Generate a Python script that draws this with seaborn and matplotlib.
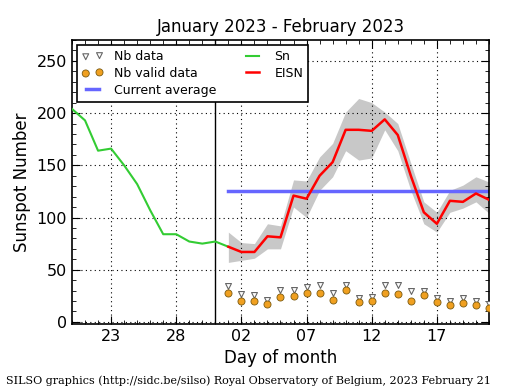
import pandas as pd
import seaborn as sns
import matplotlib.pyplot as plt
import matplotlib.dates as mdates

# daily sunspot number (Sn), last days of January
sn_dates = pd.date_range("2023-01-20", "2023-02-01", freq="D")
sn_values = [204, 193, 164, 166, 150, 132, 107, 84, 84, 77, 75, 77, 72]

# estimated international sunspot number (EISN), February
eisn_dates = pd.date_range("2023-02-01", "2023-02-21", freq="D")
eisn_values = [72, 67, 67, 82, 81, 121, 118, 140, 153, 184, 184, 183,
               194, 179, 140, 105, 94, 116, 115, 123, 117]
eisn_upper = [86, 76, 75, 94, 92, 136, 135, 158, 171, 201, 214, 210,
              201, 190, 152, 115, 105, 126, 131, 139, 134]
eisn_lower = [57, 59, 61, 70, 70, 110, 100, 126, 139, 164, 155, 157,
              184, 164, 126, 94, 86, 105, 109, 115, 104]

# number of stations
nb_data = [34, 27, 26, 21, 31, 31, 33, 35, 28, 35, 23, 24,
           35, 35, 30, 30, 23, 20, 23, 20, 17]
nb_valid = [28, 20, 20, 17, 24, 25, 28, 28, 21, 31, 19, 20,
            28, 27, 20, 26, 19, 16, 18, 16, 13]

current_average = 125

tick_dates = pd.to_datetime(["2023-01-23", "2023-01-28", "2023-02-02",
                             "2023-02-07", "2023-02-12", "2023-02-17"])
tick_labels = ["23", "28", "02", "07", "12", "17"]

plt.rcParams["font.family"] = "DejaVu Sans"
fig = plt.figure(figsize=(5.15, 3.9), dpi=100)
ax = fig.add_axes([0.1398, 0.1692, 0.8097, 0.7282])

ax.fill_between(eisn_dates, eisn_lower, eisn_upper, color="#c8c8c8",
                lw=0, zorder=1)
avg_line, = ax.plot([eisn_dates[0], eisn_dates[-1]],
                    [current_average, current_average],
                    color="#6666ff", lw=2.5, zorder=2, label="Current average")
sns.lineplot(x=sn_dates, y=sn_values, ax=ax, color="#33cc33", lw=1.5,
             zorder=3, label="Sn")
sns.lineplot(x=eisn_dates, y=eisn_values, ax=ax, color="red", lw=1.8,
             zorder=4, label="EISN")
sns.scatterplot(x=eisn_dates, y=nb_data, ax=ax, marker="v", s=18,
                color="white", edgecolor="#666666", linewidth=0.8,
                zorder=5, label="Nb data")
sns.scatterplot(x=eisn_dates, y=nb_valid, ax=ax, marker="o", s=26,
                color="#f0a020", edgecolor="#7a5a10", linewidth=0.6,
                zorder=6, label="Nb valid data")
ax.axvline(pd.Timestamp("2023-01-31"), color="black", lw=1, zorder=2)

ax.set_xlim(pd.Timestamp("2023-01-20"), pd.Timestamp("2023-02-21"))
ax.set_ylim(-2, 270)
ax.set_xticks(tick_dates)
ax.set_xticklabels(tick_labels)
ax.xaxis.set_minor_locator(mdates.DayLocator())
ax.set_yticks([0, 50, 100, 150, 200, 250])
ax.set_yticks(range(0, 271, 10), minor=True)
ax.tick_params(which="both", direction="in", top=True, right=True,
               labelsize=11.5)
ax.tick_params(which="major", length=6)
ax.tick_params(which="minor", length=3)
ax.grid(True, which="major", color="black", linestyle=(0, (1, 3)), lw=0.8)
for s in ax.spines.values():
    s.set_linewidth(1.2)

ax.set_xlabel("Day of month", fontsize=12)
ax.set_ylabel("Sunspot Number", fontsize=12)
ax.set_title("January 2023 - February 2023", fontsize=12)

handles, labels = ax.get_legend_handles_labels()
order = ["Nb data", "Nb valid data", "Current average", "Sn", "EISN"]
hmap = dict(zip(labels, handles))
leg = ax.legend([hmap[k] for k in order], order, loc="upper left", ncol=2,
                fontsize=9, scatterpoints=2, numpoints=2, fancybox=False,
                edgecolor="black", framealpha=1, borderaxespad=0.4,
                handlelength=1.7, handletextpad=0.9, columnspacing=2.0,
                labelspacing=0.3)
leg.get_frame().set_linewidth(1.2)

fig.text(0.012, 0.015, "SILSO graphics (http://sidc.be/silso) Royal Observatory "
         "of Belgium, 2023 February 21", family="DejaVu Serif", fontsize=8)

fig.savefig("out.png", dpi=100)
